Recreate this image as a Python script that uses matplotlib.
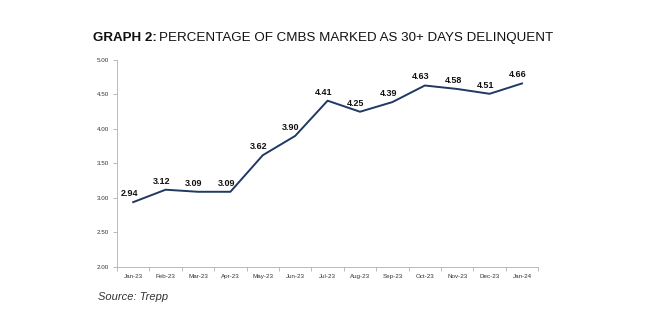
import matplotlib
matplotlib.use("Agg")
import matplotlib.pyplot as plt
from matplotlib.ticker import FixedLocator

# 数据
months = ["Jan-23", "Feb-23", "Mar-23", "Apr-23", "May-23", "Jun-23", "Jul-23",
          "Aug-23", "Sep-23", "Oct-23", "Nov-23", "Dec-23", "Jan-24"]
rates = [2.94, 3.12, 3.09, 3.09, 3.62, 3.90, 4.41, 4.25, 4.39, 4.63, 4.58, 4.51, 4.66]
y_ticks = [2.00, 2.50, 3.00, 3.50, 4.00, 4.50, 5.00]

plt.rcParams["font.family"] = ["Liberation Sans", "DejaVu Sans"]

fig = plt.figure(figsize=(6.5, 3.26), dpi=100)
ax = fig.add_axes([0.18, 0.181, 0.648, 0.635])

x = list(range(len(months)))
ax.plot(x, rates, color="#1f3864", linewidth=1.4)

# 数据标签
for xi, v in zip(x, rates):
    ax.annotate(f"{v:.2f}", (xi, v), xytext=(-3, 3), textcoords="offset points",
                ha="center", va="bottom", fontsize=6.5, fontweight="bold", color="#111111")

ax.set_xlim(-0.5, len(months) - 0.5)
ax.set_ylim(2.0, 5.0)
ax.set_yticks(y_ticks)
ax.set_yticklabels([f"{t:.2f}" for t in y_ticks], fontsize=4.5, color="#333333")
ax.set_xticks(x)
ax.set_xticklabels(months, fontsize=4.5, color="#333333")
ax.tick_params(axis="x", length=0, pad=5)
ax.xaxis.set_minor_locator(FixedLocator([i - 0.5 for i in range(len(months) + 1)]))
ax.tick_params(axis="x", which="minor", length=3, color="#b0b0b0", width=0.6)
ax.tick_params(axis="y", length=3, color="#b0b0b0", width=0.6, pad=3)

for s in ["top", "right"]:
    ax.spines[s].set_visible(False)
for s in ["left", "bottom"]:
    ax.spines[s].set_color("#b0b0b0")
    ax.spines[s].set_linewidth(0.6)

# 标题
t1 = fig.text(0.143, 0.883, "GRAPH 2:", fontsize=9.6, fontweight="bold", color="#111111",
              ha="left", va="center")
fig.canvas.draw()
bb = t1.get_window_extent()
fig.text(bb.x1 / fig.bbox.width + 0.004, 0.883,
         "PERCENTAGE OF CMBS MARKED AS 30+ DAYS DELINQUENT",
         fontsize=9.6, color="#111111", ha="left", va="center")

fig.text(0.15, 0.09, "Source: Trepp", fontsize=8, style="italic", color="#333333",
         ha="left", va="center")

fig.savefig("out.png", dpi=100)
